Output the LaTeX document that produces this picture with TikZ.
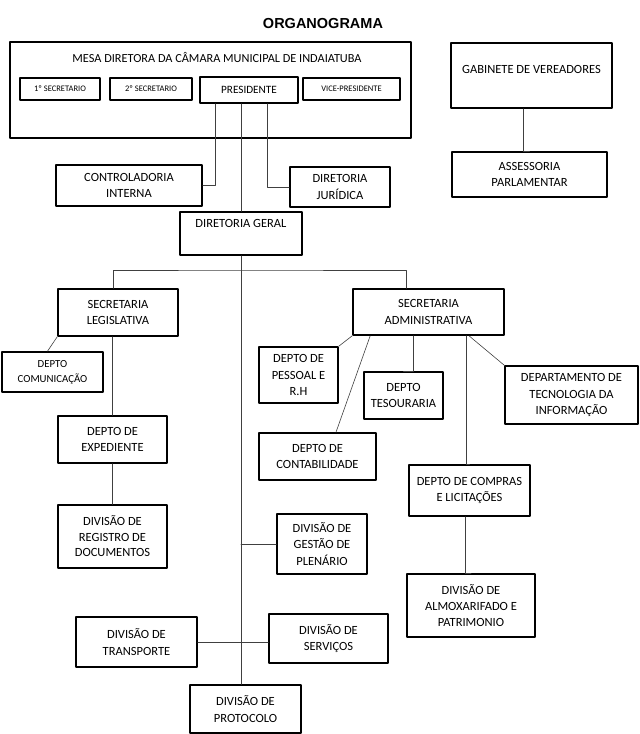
\documentclass[tikz,border=0pt]{standalone}
\usepackage{fontspec}
\setmainfont{Carlito}
\newfontfamily\titlefont{Liberation Sans}
\usetikzlibrary{positioning}

\tikzset{
  caixa/.style={draw, line width=1.6pt, inner sep=1pt, align=center,
    font=\fontsize{12.5}{16.5}\selectfont},
  miuda/.style={caixa, line width=1.4pt, font=\fontsize{8.5}{10}\selectfont},
  liga/.style={draw=black!75, line width=0.6pt}
}

\begin{document}
\begin{tikzpicture}[line cap=round,line join=round,x=1pt,y=-1pt]
  \useasboundingbox (0,0) rectangle (640,734);

  % titulo
  \node[font=\titlefont\bfseries\fontsize{14.5}{17}\selectfont] (titulo) at (323,24) {ORGANOGRAMA};

  % mesa diretora
  \node[caixa, minimum width=401, minimum height=96] (mesa) at (210.5,90) {};
  \node[font=\fontsize{12.3}{14}\selectfont] (mesatxt) at (217,58) {MESA DIRETORA DA CÂMARA MUNICIPAL DE INDAIATUBA};
  \node[miuda, minimum width=80, minimum height=22] (sec1) at (60,89) {1º SECRETARIO};
  \node[miuda, minimum width=82, minimum height=22] (sec2) at (151,89) {2º SECRETARIO};
  \node[caixa, font=\fontsize{11.2}{13}\selectfont, minimum width=98, minimum height=26] (pres) at (249,90) {PRESIDENTE};
  \node[miuda, minimum width=97, minimum height=22] (vice) at (351.5,89) {VICE-PRESIDENTE};

  % gabinete
  \node[caixa, minimum width=161, minimum height=65] (gab) at (531.5,75.5) {GABINETE DE VEREADORES\\[-4pt]};
  \node[caixa, minimum width=155, minimum height=45] (ass) at (529.5,174.5) {ASSESSORIA\\PARLAMENTAR};

  % orgaos ligados a presidencia
  \node[caixa, minimum width=146, minimum height=41] (ctrl) at (129,185.5) {CONTROLADORIA\\INTERNA};
  \node[caixa, minimum width=100, minimum height=40] (jur) at (340,187) {DIRETORIA\\JURÍDICA};
  \node[caixa, minimum width=122, minimum height=43,
    label={[anchor=north, yshift=-5pt, font=\fontsize{12.5}{14}\selectfont]north:DIRETORIA GERAL}] (dg) at (241,233.5) {};

  % secretarias
  \node[caixa, minimum width=120, minimum height=47] (sl) at (118,312.5) {SECRETARIA\\LEGISLATIVA};
  \node[caixa, minimum width=151, minimum height=46] (sa) at (428.5,312) {SECRETARIA\\ADMINISTRATIVA};

  % legislativa
  \node[caixa, font=\fontsize{10.8}{15}\selectfont, minimum width=101, minimum height=40] (com) at (52.5,372) {DEPTO\\COMUNICAÇÃO};
  \node[caixa, minimum width=109, minimum height=47] (exp) at (112.5,439.5) {DEPTO DE\\EXPEDIENTE};
  \node[caixa, font=\fontsize{12.5}{15.5}\selectfont, minimum width=109, minimum height=63] (reg) at (112.5,536.5) {DIVISÃO DE\\REGISTRO DE\\DOCUMENTOS};

  % administrativa
  \node[caixa, minimum width=79, minimum height=56] (pes) at (298.5,375) {DEPTO DE\\PESSOAL E\\R.H};
  \node[caixa, minimum width=117, minimum height=47] (cont) at (317.5,456.5) {DEPTO DE\\CONTABILIDADE};
  \node[caixa, minimum width=79, minimum height=47] (tes) at (403.5,395.5) {DEPTO\\TESOURARIA};
  \node[caixa, minimum width=133, minimum height=58] (ti) at (571.5,395) {DEPARTAMENTO DE\\TECNOLOGIA DA\\INFORMAÇÃO};
  \node[caixa, minimum width=121, minimum height=51] (comp) at (469.5,490.5) {DEPTO DE COMPRAS\\E LICITAÇÕES};
  \node[caixa, font=\fontsize{12.5}{16}\selectfont, minimum width=128, minimum height=63] (almox) at (471,605.5) {DIVISÃO DE\\ALMOXARIFADO E\\PATRIMONIO};

  % divisoes da diretoria geral
  \node[caixa, minimum width=90, minimum height=60] (plen) at (322,544) {DIVISÃO DE\\GESTÃO DE\\PLENÁRIO};
  \node[caixa, minimum width=121, minimum height=50] (transp) at (136.5,642) {DIVISÃO DE\\TRANSPORTE};
  \node[caixa, minimum width=119, minimum height=49] (serv) at (328.5,638.5) {DIVISÃO DE\\SERVIÇOS};
  \node[caixa, minimum width=111, minimum height=48] (prot) at (245.5,709) {DIVISÃO DE\\PROTOCOLO};

  % ligacoes
  \coordinate (barra) at (242,270);
  \draw[liga] ([xshift=-8pt]gab.south) |- (ass.north);
  \draw[liga] ([xshift=-34pt]pres.south) |- (ctrl.east);
  \draw[liga] ([xshift=18pt]pres.south) |- (jur.west);
  \draw[liga] (dg.north |- pres.south) -- (dg.north);
  \draw[liga] ([xshift=-5pt]sl.north) |- (barra) -| ([xshift=-22pt]sa.north);
  \draw[liga] (dg.south) -- (dg.south |- prot.north);
  \draw[liga] (plen.west) -- (plen.west -| dg.south);
  \draw[liga] (transp.east) -- (transp.east -| serv.west);

  \draw[liga] (sl.south west) -- ([xshift=-5pt]com.north);
  \draw[liga] (exp.north |- sl.south) -- (exp.north);
  \draw[liga] (exp.south) -- (reg.north);

  \draw[liga] (sa.south west) -- (pes.north east);
  \draw[liga] ([xshift=18pt]sa.south west) -- ([xshift=18.5pt]cont.north);
  \draw[liga] ([xshift=-15pt]sa.south) |- (tes.north);
  \draw[liga] ([xshift=40.5pt]sa.south) -- (ti.north west);
  \draw[liga] ([xshift=37.5pt]sa.south) |- (comp.north);
  \draw[liga] ([xshift=-4pt]comp.south) |- (almox.north);
\end{tikzpicture}
\end{document}
